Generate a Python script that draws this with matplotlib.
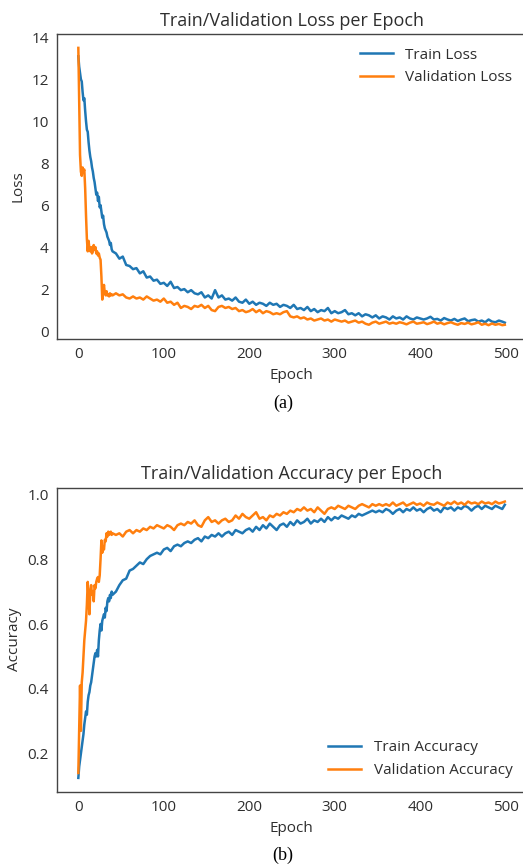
import matplotlib
matplotlib.use('Agg')
import matplotlib.pyplot as plt

# epochs: every epoch for the steep start, then every 4th
epochs = list(range(0, 41)) + list(range(44, 500, 4)) + [499]

train_loss = [
    13.1, 12.6, 12.3, 12.0, 11.9, 11.4, 11.0, 11.1, 10.5, 10.0,
    9.6, 9.5, 9.0, 8.6, 8.3, 8.1, 7.8, 7.6, 7.3, 7.1,
    6.8, 6.5, 6.6, 6.2, 6.4, 5.9, 6.0, 5.7, 5.4, 5.5,
    5.1, 4.9, 4.8, 4.7, 4.5, 4.4, 4.3, 4.1, 4.2, 3.9,
    3.8,
    3.70, 3.45, 3.55, 3.15, 3.10, 2.95, 3.00, 2.75, 2.85, 2.55,
    2.60, 2.40, 2.45, 2.25, 2.30, 2.15, 2.35, 2.05, 2.10, 1.95,
    2.00, 1.85, 1.95, 1.80, 1.75, 1.85, 1.60, 1.70, 1.55, 1.95,
    1.60, 1.70, 1.50, 1.55, 1.45, 1.60, 1.40, 1.35, 1.50, 1.30,
    1.40, 1.25, 1.35, 1.30, 1.20, 1.35, 1.25, 1.30, 1.15, 1.25,
    1.20, 1.10, 1.25, 1.05, 1.10, 1.00, 1.15, 0.95, 1.05, 0.90,
    1.00, 0.95, 1.10, 0.85, 0.95, 0.85, 0.90, 1.00, 0.80, 0.85,
    0.75, 0.85, 0.70, 0.80, 0.75, 0.65, 0.75, 0.60, 0.70, 0.65,
    0.55, 0.70, 0.60, 0.65, 0.55, 0.70, 0.60, 0.55, 0.65, 0.60,
    0.55, 0.60, 0.68, 0.55, 0.58, 0.50, 0.62, 0.55, 0.50, 0.58,
    0.48, 0.55, 0.60, 0.47, 0.52, 0.55, 0.45, 0.50, 0.42, 0.55,
    0.45, 0.42, 0.50, 0.45, 0.40,
]

val_loss = [
    13.5, 11.0, 8.4, 7.6, 7.4, 7.8, 7.6, 7.7, 6.8, 5.5,
    4.4, 3.8, 4.3, 3.9, 3.8, 4.0, 3.7, 3.8, 4.1, 3.9,
    4.0, 3.7, 3.8, 3.6, 3.7, 3.5, 3.4, 2.6, 1.5, 1.9,
    2.2, 1.8, 1.7, 1.9, 1.7, 1.75, 1.65, 1.8, 1.7, 1.75,
    1.7,
    1.80, 1.70, 1.75, 1.60, 1.55, 1.65, 1.55, 1.60, 1.50, 1.65,
    1.55, 1.45, 1.50, 1.40, 1.55, 1.35, 1.40, 1.25, 1.35, 1.10,
    1.20, 1.15, 1.05, 1.20, 1.15, 1.25, 1.10, 1.20, 1.00, 0.95,
    1.15, 1.20, 1.10, 1.15, 1.05, 1.10, 0.95, 1.00, 0.90, 0.95,
    1.05, 0.90, 1.00, 0.85, 0.95, 0.90, 0.80, 0.85, 0.80, 0.90,
    0.95, 0.70, 0.65, 0.70, 0.60, 0.65, 0.55, 0.60, 0.50, 0.55,
    0.60, 0.50, 0.55, 0.45, 0.55, 0.50, 0.45, 0.50, 0.40, 0.45,
    0.50, 0.40, 0.45, 0.35, 0.30, 0.40, 0.45, 0.35, 0.40, 0.45,
    0.35, 0.40, 0.35, 0.42, 0.38, 0.32, 0.40, 0.45, 0.35, 0.38,
    0.42, 0.33, 0.38, 0.45, 0.35, 0.40, 0.32, 0.38, 0.42, 0.35,
    0.30, 0.38, 0.34, 0.40, 0.32, 0.36, 0.42, 0.30, 0.35, 0.28,
    0.36, 0.30, 0.34, 0.28, 0.30,
]

train_acc = [
    0.125, 0.16, 0.18, 0.20, 0.22, 0.24, 0.26, 0.29, 0.31, 0.33,
    0.32, 0.36, 0.38, 0.39, 0.41, 0.42, 0.44, 0.46, 0.48, 0.50,
    0.51, 0.50, 0.52, 0.50, 0.55, 0.58, 0.60, 0.58, 0.61, 0.62,
    0.63, 0.62, 0.65, 0.64, 0.67, 0.68, 0.67, 0.69, 0.68, 0.70,
    0.69,
    0.700, 0.720, 0.735, 0.740, 0.765, 0.770, 0.780, 0.790, 0.785, 0.800,
    0.810, 0.815, 0.820, 0.815, 0.830, 0.835, 0.825, 0.840, 0.845, 0.840,
    0.850, 0.855, 0.850, 0.860, 0.865, 0.855, 0.870, 0.865, 0.875, 0.870,
    0.880, 0.870, 0.880, 0.885, 0.875, 0.890, 0.885, 0.880, 0.890, 0.895,
    0.885, 0.900, 0.890, 0.905, 0.895, 0.910, 0.900, 0.890, 0.905, 0.910,
    0.900, 0.915, 0.905, 0.920, 0.910, 0.915, 0.925, 0.910, 0.920, 0.915,
    0.925, 0.915, 0.930, 0.920, 0.930, 0.925, 0.935, 0.930, 0.925, 0.935,
    0.930, 0.940, 0.935, 0.940, 0.945, 0.950, 0.945, 0.950, 0.945, 0.955,
    0.950, 0.940, 0.950, 0.955, 0.945, 0.955, 0.950, 0.960, 0.950, 0.955,
    0.945, 0.955, 0.960, 0.950, 0.955, 0.945, 0.960, 0.955, 0.960, 0.950,
    0.960, 0.955, 0.965, 0.960, 0.950, 0.960, 0.965, 0.955, 0.965, 0.960,
    0.955, 0.965, 0.960, 0.955, 0.968,
]

val_acc = [
    0.14, 0.28, 0.41, 0.27, 0.42, 0.45, 0.50, 0.55, 0.58, 0.61,
    0.66, 0.73, 0.68, 0.63, 0.70, 0.72, 0.69, 0.70, 0.67, 0.72,
    0.71, 0.73, 0.74, 0.745, 0.73, 0.75, 0.80, 0.858, 0.82, 0.84,
    0.83, 0.86, 0.855, 0.88, 0.87, 0.885, 0.875, 0.88, 0.885, 0.875,
    0.88,
    0.875, 0.880, 0.870, 0.885, 0.890, 0.880, 0.890, 0.885, 0.895, 0.890,
    0.900, 0.895, 0.905, 0.900, 0.895, 0.905, 0.900, 0.890, 0.905, 0.910,
    0.905, 0.915, 0.910, 0.920, 0.905, 0.900, 0.920, 0.930, 0.915, 0.920,
    0.910, 0.920, 0.925, 0.915, 0.920, 0.935, 0.925, 0.940, 0.930, 0.925,
    0.935, 0.945, 0.925, 0.930, 0.920, 0.935, 0.930, 0.940, 0.935, 0.945,
    0.940, 0.950, 0.945, 0.955, 0.950, 0.960, 0.950, 0.955, 0.945, 0.960,
    0.950, 0.940, 0.955, 0.960, 0.955, 0.965, 0.960, 0.955, 0.965, 0.960,
    0.955, 0.965, 0.970, 0.965, 0.960, 0.970, 0.965, 0.970, 0.965, 0.970,
    0.965, 0.975, 0.965, 0.970, 0.975, 0.965, 0.970, 0.975, 0.968, 0.972,
    0.965, 0.975, 0.970, 0.968, 0.975, 0.970, 0.965, 0.975, 0.970, 0.978,
    0.970, 0.975, 0.968, 0.978, 0.972, 0.975, 0.970, 0.978, 0.972, 0.975,
    0.970, 0.978, 0.972, 0.975, 0.978,
]

text_col = '#2e2e2e'
plt.rcParams['font.family'] = ['Open Sans', 'DejaVu Sans']
plt.rcParams['text.color'] = text_col
plt.rcParams['axes.labelcolor'] = text_col
plt.rcParams['xtick.color'] = text_col
plt.rcParams['ytick.color'] = text_col

fig = plt.figure(figsize=(5.23, 8.68), dpi=100)
fig.patch.set_facecolor('white')


def style_axes(ax):
    for s in ax.spines.values():
        s.set_color('#444444')
        s.set_linewidth(1.0)
    ax.tick_params(length=0, pad=6, labelsize=11)
    ax.set_xticks([0, 100, 200, 300, 400, 500])


# PLOT (a)
ax1 = fig.add_axes([0.109, 0.6094, 0.897, 0.3514])
ax1.plot(epochs, train_loss, color='#1f77b4', lw=1.8, label='Train Loss')
ax1.plot(epochs, val_loss, color='#ff7f0e', lw=1.8, label='Validation Loss')
ax1.set_title('Train/Validation Loss per Epoch', fontsize=13, pad=6)
ax1.set_xlabel('Epoch', fontsize=11, labelpad=4)
ax1.set_ylabel('Loss', fontsize=11)
ax1.set_yticks([0, 2, 4, 6, 8, 10, 12, 14])
style_axes(ax1)
ax1.legend(loc='upper right', frameon=False, fontsize=11, handlelength=2.2)

# PLOT (b)
ax2 = fig.add_axes([0.109, 0.0879, 0.897, 0.3502])
ax2.plot(epochs, train_acc, color='#1f77b4', lw=1.8, label='Train Accuracy')
ax2.plot(epochs, val_acc, color='#ff7f0e', lw=1.8, label='Validation Accuracy')
ax2.set_title('Train/Validation Accuracy per Epoch', fontsize=13, pad=6)
ax2.set_xlabel('Epoch', fontsize=11, labelpad=4)
ax2.set_ylabel('Accuracy', fontsize=11)
ax2.set_yticks([0.2, 0.4, 0.6, 0.8, 1.0])
style_axes(ax2)
ax2.legend(loc='lower right', frameon=False, fontsize=11, handlelength=2.2)

fig.text(0.541, 1 - 403 / 868, '(a)', family='Liberation Serif', fontsize=13,
         color='black', ha='center', va='center')
fig.text(0.541, 1 - 855 / 868, '(b)', family='Liberation Serif', fontsize=13,
         color='black', ha='center', va='center')

fig.savefig('out.png', dpi=100, facecolor='white')
